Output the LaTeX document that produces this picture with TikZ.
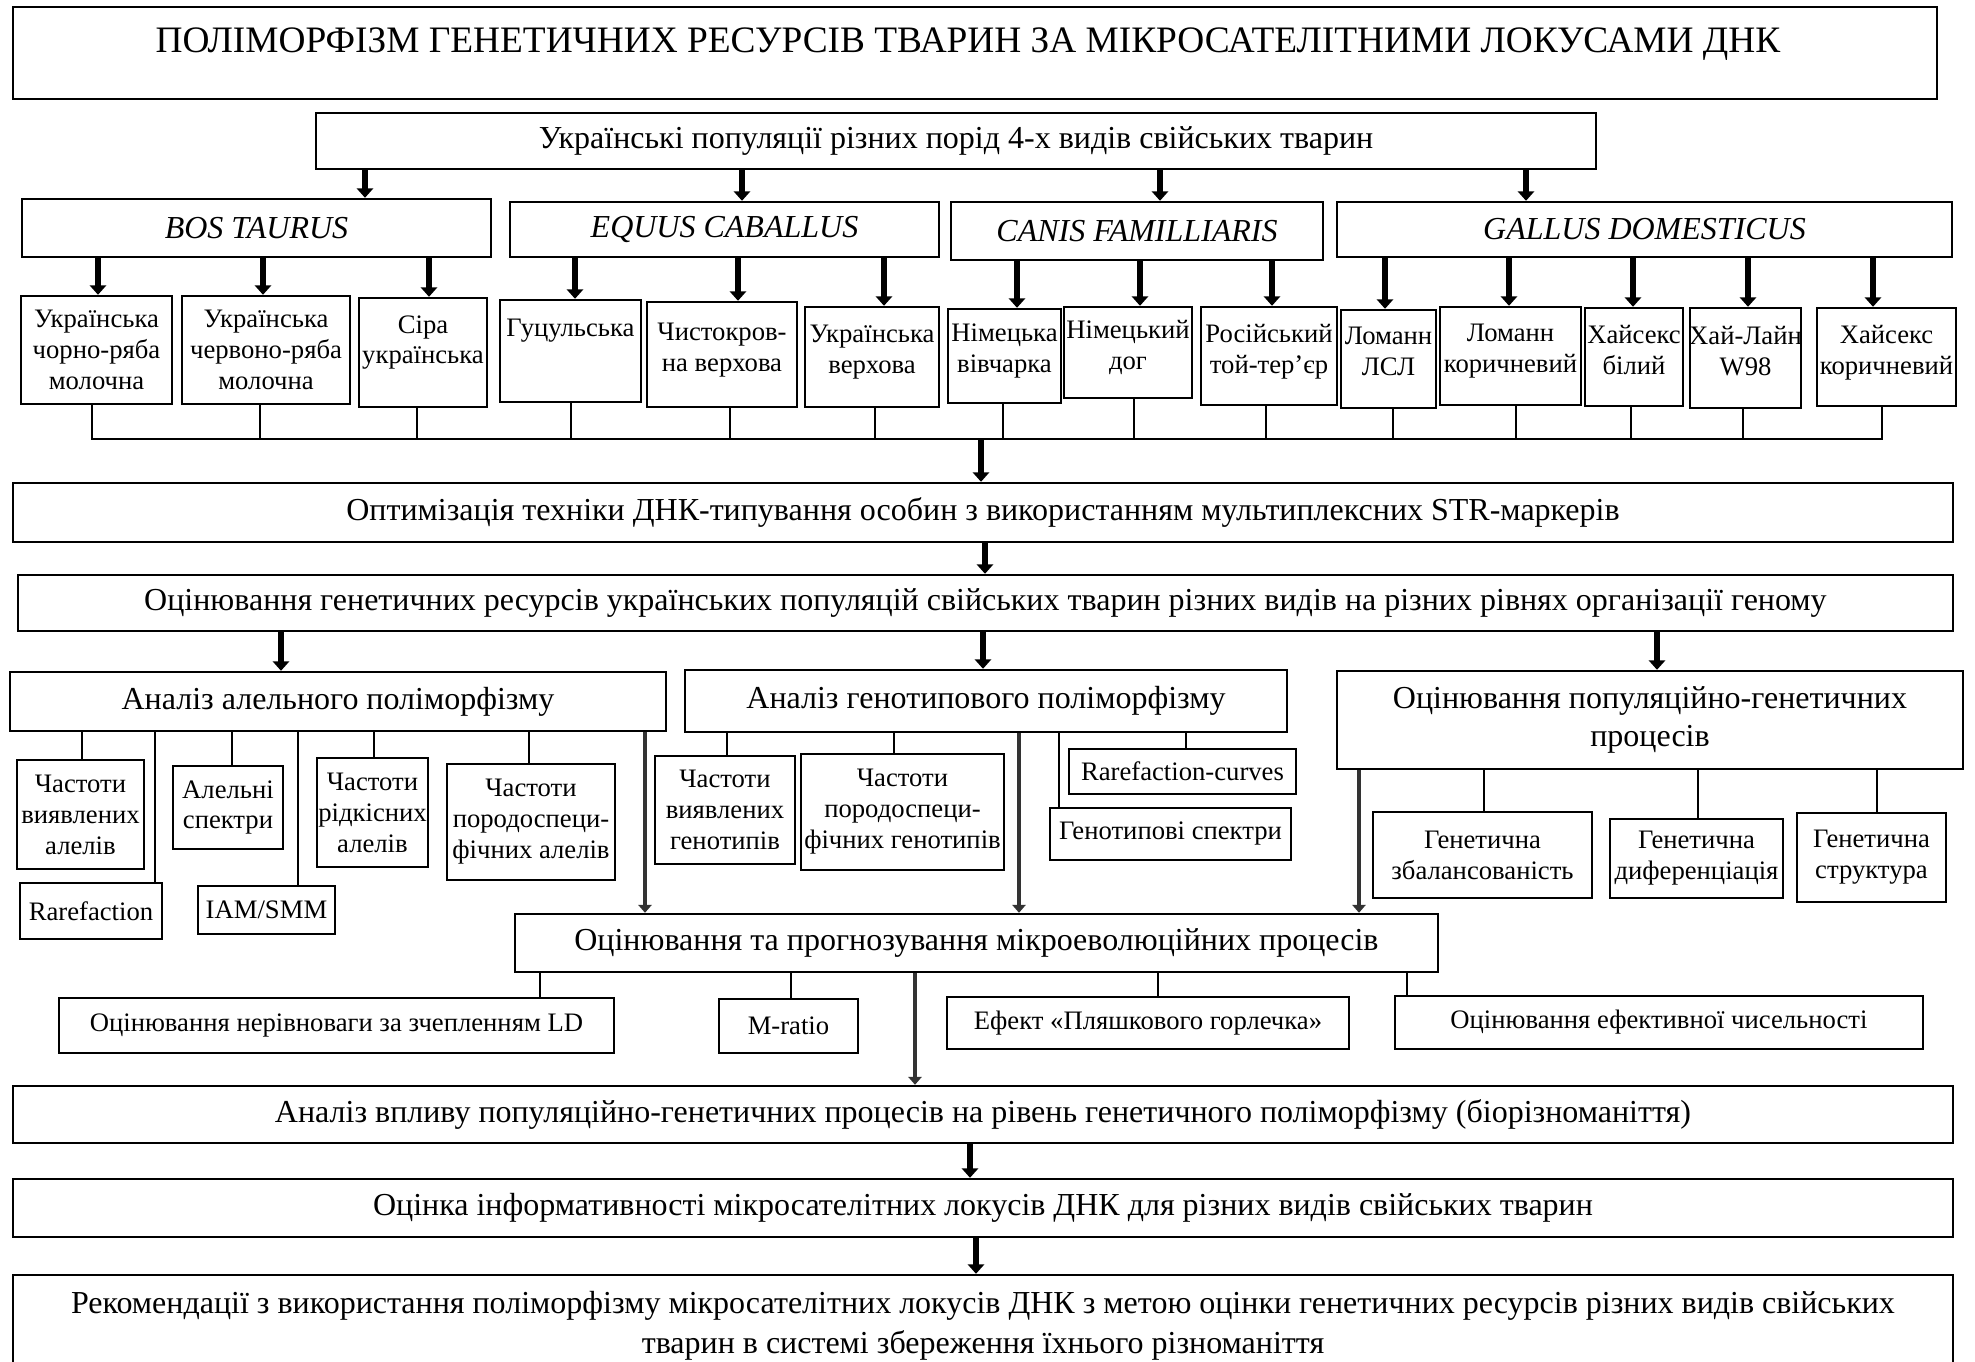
\documentclass[tikz,border=0pt]{standalone}
\usepackage{fontspec}
\setmainfont{Liberation Serif}
\usetikzlibrary{arrows.meta}
\newcommand{\ttlf}{\fontsize{14}{16}\selectfont}
\newcommand{\mainf}{\fontsize{12}{14.25}\selectfont}
\newcommand{\smf}{\fontsize{10}{11.6}\selectfont}
% box from its corners (x1,y1) (x2,y2), in pixel units
\newcommand{\bx}[7][]{%
  \node[blk, #1, minimum width={(#5-#3)*0.375pt}, minimum height={(#6-#4)*0.375pt}]
    (#2) at ({(#3+#5)/2},{(#4+#6)/2}) {#7};}
\tikzset{
  blk/.style={draw, line width=0.9pt, inner sep=0pt, align=center, font=\mainf},
  sblk/.style={blk, font=\smf},
  spc/.style={blk, font=\mainf\itshape},
  lnk/.style={line width=0.7pt},
  arr/.style={-{Triangle[length=3.5pt, width=6pt]}, line width=2.2pt},
  larr/.style={-{Triangle[length=3pt, width=5pt]}, line width=1.5pt, black!80},
}

\begin{document}
\begin{tikzpicture}[x=0.375pt, y=-0.375pt]
\path[use as bounding box, fill=white] (0,0) rectangle (1975,1362);

% title, populations, species
\bx[line width=1.1pt]{title}{13}{7}{1937}{99}{}
\node[font=\ttlf, anchor=base] (titletext) at (968,53) {ПОЛІМОРФІЗМ ГЕНЕТИЧНИХ РЕСУРСІВ ТВАРИН ЗА МІКРОСАТЕЛІТНИМИ ЛОКУСАМИ ДНК};
\bx{pop}{316}{113}{1596}{169}{Українські популяції різних порід 4-х видів свійських тварин}
\bx[spc]{bos}{22}{199}{491}{257}{BOS TAURUS}
\bx[spc]{equ}{510}{202}{939}{257}{EQUUS CABALLUS}
\bx[spc]{can}{951}{202}{1323}{260}{CANIS FAMILLIARIS}
\bx[spc]{gal}{1337}{202}{1952}{257}{GALLUS DOMESTICUS}

% breeds
\bx[sblk]{b1}{21}{296}{172}{404}{Українська\\чорно-ряба\\молочна}
\bx[sblk]{b2}{182}{296}{350}{404}{Українська\\червоно-ряба\\молочна}
\bx[sblk]{b3}{359}{298}{487}{407}{Сіра\\українська\\[-2pt]\mbox{}}
\bx[sblk]{e1}{500}{300}{641}{402}{Гуцульська\\\mbox{}\\[-6pt]\mbox{}}
\bx[sblk]{e2}{647}{302}{797}{407}{Чистокров-\\на верхова\\[-6pt]\mbox{}}
\bx[sblk]{e3}{805}{307}{939}{407}{Українська\\верхова\\[-6pt]\mbox{}}
\bx[sblk]{c1}{948}{309}{1061}{403}{Німецька\\вівчарка\\[-6pt]\mbox{}}
\bx[sblk]{c2}{1064}{307}{1192}{398}{Німецький\\дог\\[-6pt]\mbox{}}
\bx[sblk]{c3}{1201}{307}{1337}{405}{Російський\\той-тер’єр\\[-6pt]\mbox{}}
\bx[sblk]{g1}{1341}{310}{1436}{408}{Ломанн\\ЛСЛ\\[-6pt]\mbox{}}
\bx[sblk]{g2}{1440}{307}{1581}{405}{Ломанн\\коричневий\\[-6pt]\mbox{}}
\bx[sblk]{g3}{1585}{308}{1683}{406}{Хайсекс\\білий\\[-6pt]\mbox{}}
\bx[sblk]{g4}{1690}{308}{1801}{408}{\makebox[0pt]{Хай-Лайн}\\W98\\[-6pt]\mbox{}}
\bx[sblk]{g5}{1817}{308}{1956}{406}{Хайсекс\\коричневий\\[-6pt]\mbox{}}

\foreach \s/\x in {bos/365, equ/742, can/1160, gal/1526}
  \draw[arr] (pop.south -| \x,0) -- (\s.north -| \x,0);
\foreach \s/\b/\x in {bos/b1/98, bos/b2/263, bos/b3/429, equ/e1/575, equ/e2/738, equ/e3/884,
    can/c1/1017, can/c2/1140, can/c3/1272, gal/g1/1385, gal/g2/1509, gal/g3/1633, gal/g4/1748, gal/g5/1873}
  \draw[arr] (\s.south -| \x,0) -- (\b.north -| \x,0);

% collecting line under the breeds
\coordinate (bus) at (981,439);
\draw[lnk] (b1.south -| 92,0) |- (bus) -| (g5.south -| 1882,0);
\foreach \b/\x in {b2/260, b3/417, e1/571, e2/730, e3/875, c1/1003, c2/1134, c3/1266,
    g1/1393, g2/1516, g3/1631, g4/1743}
  \draw[lnk] (\b.south -| \x,0) -- (bus -| \x,0);

% main chain
\bx{optim}{13}{483}{1953}{542}{Оптимізація техніки ДНК-типування особин з використанням мультиплексних STR-маркерів}
\bx{eval}{18}{575}{1953}{631}{Оцінювання генетичних ресурсів українських популяцій свійських тварин різних видів на різних рівнях організації геному}
\draw[arr] (bus) -- (optim.north -| bus);
\draw[arr] (optim.south -| 985,0) -- (eval.north -| 985,0);

\bx{allel}{10}{672}{666}{731}{Аналіз алельного поліморфізму}
\bx{genot}{685}{670}{1287}{732}{Аналіз генотипового поліморфізму}
\bx{popgen}{1337}{671}{1963}{769}{Оцінювання популяційно-генетичних\\процесів}
\foreach \t/\x in {allel/281, genot/983, popgen/1657}
  \draw[arr] (eval.south -| \x,0) -- (\t.north -| \x,0);

% alleles
\bx[sblk]{a1}{17}{760}{144}{869}{Частоти\\виявлених\\алелів}
\bx[sblk]{a2}{20}{883}{162}{939}{Rarefaction}
\bx[sblk]{a3}{173}{766}{283}{849}{Алельні\\спектри}
\bx[sblk]{a4}{198}{886}{335}{934}{IAM/SMM}
\bx[sblk]{a5}{317}{758}{428}{867}{Частоти\\рідкісних\\алелів}
\bx[sblk]{a6}{447}{764}{615}{880}{Частоти\\породоспеци-\\фічних алелів}
\foreach \t/\x in {a1/82, a2/155, a3/232, a4/298, a5/374, a6/529}
  \draw[lnk] (allel.south -| \x,0) -- (\t.north -| \x,0);

% genotypes
\bx[sblk]{n1}{655}{756}{795}{864}{Частоти\\виявлених\\генотипів}
\bx[sblk]{n2}{801}{754}{1004}{870}{Частоти\\породоспеци-\\\makebox[0pt]{фічних генотипів}}
\bx[sblk]{n3}{1069}{749}{1296}{794}{Rarefaction-curves}
\bx[sblk]{n4}{1050}{808}{1291}{860}{Генотипові спектри}
\foreach \t/\x in {n1/727, n2/894, n3/1186, n4/1059}
  \draw[lnk] (genot.south -| \x,0) -- (\t.north -| \x,0);

% population processes
\bx[sblk]{p1}{1373}{812}{1592}{898}{Генетична\\збалансованість}
\bx[sblk]{p2}{1610}{819}{1783}{898}{Генетична\\диференціація}
\bx[sblk]{p3}{1797}{813}{1946}{902}{Генетична\\структура}
\foreach \t/\x in {p1/1484, p2/1698, p3/1877}
  \draw[lnk] (popgen.south -| \x,0) -- (\t.north -| \x,0);

% microevolution
\bx{micro}{515}{914}{1438}{972}{Оцінювання та прогнозування мікроеволюційних процесів}
\foreach \s/\x in {allel/645, genot/1019, popgen/1359}
  \draw[larr] (\s.south -| \x,0) -- (micro.north -| \x,0);
\bx[sblk]{m1}{59}{998}{614}{1053}{Оцінювання нерівноваги за зчепленням LD}
\bx[sblk]{m2}{719}{999}{858}{1053}{M-ratio}
\bx[sblk]{m3}{947}{997}{1349}{1049}{Ефект «Пляшкового горлечка»}
\bx[sblk]{m4}{1395}{996}{1923}{1049}{Оцінювання ефективної чисельності}
\foreach \t/\x in {m1/540, m2/791, m3/1158, m4/1407}
  \draw[lnk] (micro.south -| \x,0) -- (\t.north -| \x,0);

% conclusions
\bx{imp}{13}{1086}{1953}{1143}{Аналіз впливу популяційно-генетичних процесів на рівень генетичного поліморфізму (біорізноманіття)}
\bx{info}{13}{1179}{1953}{1237}{Оцінка інформативності мікросателітних локусів ДНК для різних видів свійських тварин}
\bx[font=\fontsize{12}{15}\selectfont]{rec}{13}{1275}{1953}{1376}{Рекомендації з використання поліморфізму мікросателітних локусів ДНК з метою оцінки генетичних ресурсів різних видів свійських\\тварин в системі збереження їхнього різноманіття}
\draw[larr] (micro.south -| 915,0) -- (imp.north -| 915,0);
\draw[arr] (imp.south -| 970,0) -- (info.north -| 970,0);
\draw[arr] (info.south -| 976,0) -- (rec.north -| 976,0);
\end{tikzpicture}
\end{document}
